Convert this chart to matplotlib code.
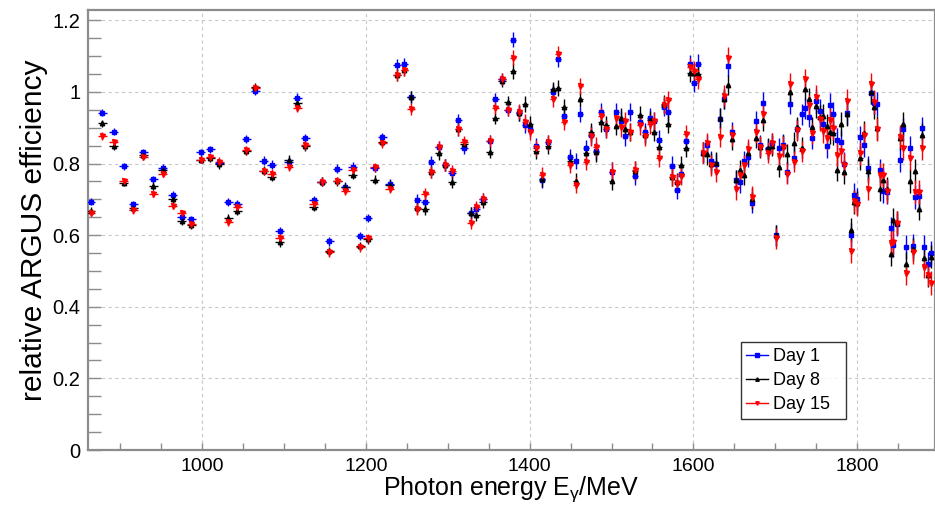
import numpy as np
import matplotlib.pyplot as plt
from matplotlib.ticker import MultipleLocator
from matplotlib.lines import Line2D

plt.rcParams['font.family'] = ['Liberation Sans', 'DejaVu Sans']
plt.rcParams['mathtext.fontset'] = 'custom'
plt.rcParams['mathtext.rm'] = 'Liberation Sans'
plt.rcParams['mathtext.it'] = 'Liberation Sans:italic'

# photon energy bins (MeV)
energy = [864, 878, 892, 904, 916, 928, 940, 952, 964, 975, 987, 998, 1010,
          1021, 1032, 1043, 1054, 1065, 1075, 1085, 1095, 1106, 1116, 1126, 1136, 1146, 1155, 1165,
          1175, 1184, 1193, 1202, 1211, 1220, 1229, 1238, 1247, 1255, 1263, 1272, 1280, 1289, 1297,
          1305, 1313, 1320,
          1328, 1335, 1343, 1351, 1358, 1366, 1373, 1380, 1387, 1394, 1401, 1408, 1415, 1422, 1428,
          1435, 1442, 1449, 1456, 1462, 1469,
          1475, 1481, 1487, 1493, 1500, 1506, 1512, 1517, 1523, 1529, 1535, 1541, 1547, 1552, 1558,
          1564, 1569, 1574, 1580, 1585, 1591, 1596, 1601, 1606,
          1612, 1617, 1622, 1627, 1632, 1637, 1642, 1647, 1652, 1656.5, 1661.5, 1666.5, 1671.5,
          1676.5, 1681.5, 1685.5, 1690.5, 1695.5, 1700.5, 1705, 1709, 1714, 1718, 1723, 1727, 1732,
          1736, 1741, 1745,
          1750, 1754, 1758, 1763, 1767, 1771, 1775, 1780, 1784, 1788, 1792, 1796, 1800, 1804, 1808,
          1813, 1817, 1821, 1824, 1828, 1832, 1836, 1841, 1844, 1848, 1852, 1856, 1860, 1864, 1868,
          1871, 1875, 1879, 1882, 1886, 1890]

day1 = [0.693, 0.942, 0.889, 0.792, 0.686, 0.831, 0.756, 0.788, 0.712, 0.650, 0.644, 0.831, 0.840,
        0.802, 0.693, 0.686, 0.869, 1.002, 0.808, 0.797, 0.612, 0.805, 0.984, 0.871, 0.698, 0.749,
        0.583, 0.786,
        0.735, 0.791, 0.598, 0.648, 0.788, 0.873, 0.744, 1.076, 1.079, 0.986, 0.698, 0.693, 0.803,
        0.847, 0.797, 0.774, 0.921, 0.844,
        0.662, 0.672, 0.700, 0.863, 0.980, 1.035, 0.949, 1.146, 0.942, 0.907, 0.896, 0.849, 0.754,
        0.859, 1.000, 1.091, 0.933, 0.819, 0.807, 0.937, 0.844,
        0.879, 0.835, 0.943, 0.896, 0.777, 0.944, 0.920, 0.876, 0.944, 0.766, 0.916, 0.887, 0.928,
        0.919, 0.867, 0.958, 0.944, 0.794, 0.726, 0.770, 0.862, 1.077, 1.026, 1.079,
        0.830, 0.851, 0.807, 0.800, 0.925, 0.980, 1.072, 0.887, 0.754, 0.747, 0.807, 0.819, 0.691,
        0.918, 0.851, 0.970, 0.840, 0.856, 0.600, 0.842, 0.853, 0.775, 0.966, 0.816, 0.895, 0.937,
        0.954, 0.930, 0.870,
        0.975, 0.947, 0.910, 0.848, 0.963, 0.938, 0.867, 0.861, 0.800, 0.941, 0.600, 0.712, 0.700,
        0.873, 0.851, 0.788, 0.998, 0.970, 0.966, 0.781, 0.724, 0.720, 0.619, 0.572, 0.630, 0.809,
        0.895, 0.566, 0.844, 0.570, 0.707, 0.710, 0.898, 0.568, 0.519, 0.550]

day8 = [0.668, 0.912, 0.849, 0.746, 0.676, 0.824, 0.737, 0.783, 0.700, 0.639, 0.627, 0.811, 0.815,
        0.798, 0.647, 0.667, 0.835, 1.014, 0.780, 0.763, 0.580, 0.811, 0.968, 0.848, 0.679, 0.749,
        0.555, 0.750,
        0.734, 0.768, 0.570, 0.588, 0.755, 0.860, 0.741, 1.047, 1.062, 0.986, 0.675, 0.674, 0.777,
        0.828, 0.797, 0.749, 0.895, 0.855,
        0.662, 0.656, 0.693, 0.833, 0.928, 1.030, 0.972, 1.059, 0.940, 0.966, 0.910, 0.834, 0.756,
        0.848, 1.007, 1.011, 0.958, 0.808, 0.751, 0.981, 0.830,
        0.887, 0.831, 0.915, 0.907, 0.752, 0.905, 0.928, 0.895, 0.888, 0.780, 0.936, 0.880, 0.921,
        0.888, 0.847, 0.966, 0.910, 0.763, 0.748, 0.795, 0.844, 1.053, 1.053, 1.050,
        0.830, 0.826, 0.800, 0.802, 0.927, 0.980, 1.019, 0.868, 0.754, 0.781, 0.768, 0.830, 0.702,
        0.872, 0.845, 0.921, 0.842, 0.850, 0.600, 0.791, 0.850, 0.826, 1.000, 0.858, 0.902, 0.844,
        1.007, 0.981, 0.902,
        0.960, 0.930, 0.932, 0.904, 0.888, 0.886, 0.783, 0.910, 0.777, 0.938, 0.614, 0.693, 0.690,
        0.816, 0.886, 0.779, 1.000, 0.958, 0.900, 0.728, 0.754, 0.730, 0.547, 0.642, 0.635, 0.870,
        0.910, 0.519, 0.751, 0.560, 0.779, 0.674, 0.879, 0.535, 0.488, 0.540]

day15 = [0.663, 0.877, 0.859, 0.750, 0.670, 0.819, 0.716, 0.772, 0.682, 0.661, 0.630, 0.811, 0.817,
         0.805, 0.638, 0.679, 0.837, 1.011, 0.779, 0.772, 0.593, 0.791, 0.955, 0.851, 0.688, 0.749,
         0.552, 0.751,
         0.723, 0.781, 0.566, 0.591, 0.789, 0.856, 0.730, 1.047, 1.062, 0.952, 0.673, 0.716, 0.777,
         0.845, 0.797, 0.778, 0.895, 0.861,
         0.634, 0.679, 0.700, 0.863, 0.954, 1.037, 0.949, 1.096, 0.945, 0.916, 0.887, 0.843, 0.769,
         0.859, 0.981, 1.107, 0.916, 0.795, 0.740, 1.017, 0.803,
         0.876, 0.847, 0.933, 0.896, 0.777, 0.926, 0.901, 0.919, 0.888, 0.781, 0.907, 0.876, 0.909,
         0.919, 0.816, 0.963, 0.977, 0.763, 0.746, 0.766, 0.882, 1.070, 1.059, 1.035,
         0.830, 0.856, 0.795, 0.777, 0.874, 0.989, 1.096, 0.879, 0.728, 0.768, 0.795, 0.840, 0.707,
         0.887, 0.847, 0.937, 0.830, 0.856, 0.591, 0.821, 0.847, 0.772, 1.023, 0.805, 0.893, 0.834,
         1.035, 0.963, 0.884,
         0.986, 0.923, 0.891, 0.872, 0.921, 0.900, 0.825, 0.835, 0.797, 0.974, 0.555, 0.694, 0.686,
         0.828, 0.881, 0.730, 1.021, 0.972, 0.895, 0.769, 0.768, 0.723, 0.579, 0.581, 0.634, 0.875,
         0.842, 0.493, 0.816, 0.553, 0.721, 0.721, 0.842, 0.512, 0.490, 0.467]

# uncertainties (same for all days)
yerr = [0.010] * 13 + [0.012] * 22 + [0.017] * 18 + [0.022] * 14 + [0.026] * 24 + [0.029] * 29 + [0.033] * 36
xerr = [5.5] * 35 + [4.5] * 18 + [3.5] * 38 + [2.5] * 65

frame_col = '#8c8c8c'

fig = plt.figure(figsize=(9.35, 5.05), dpi=100)
ax = fig.add_axes([87.5 / 935, 55 / 505, 847.5 / 935, 440 / 505])

series = [(day1, 'blue', 's', 2.6, 'Day 1'),
          (day8, 'black', '^', 3.2, 'Day 8'),
          (day15, 'red', 'v', 3.6, 'Day 15')]
handles = []
for vals, col, mk, ms, lab in series:
    ax.errorbar(energy, vals, yerr=yerr, xerr=xerr, fmt=mk, color=col, ms=ms,
                elinewidth=1.0, capsize=0, zorder=3)
    handles.append(Line2D([], [], color=col, lw=1.0, marker=mk, ms=2.5, label=lab))

ax.set_xlim(860, 1895)
ax.set_ylim(0, 1.2287)
ax.xaxis.set_major_locator(MultipleLocator(200))
ax.xaxis.set_minor_locator(MultipleLocator(50))
ax.yaxis.set_minor_locator(MultipleLocator(0.05))
ax.set_yticks([0, 0.2, 0.4, 0.6, 0.8, 1.0, 1.2])
ax.set_yticklabels(['0', '0.2', '0.4', '0.6', '0.8', '1', '1.2'])

ax.grid(True, which='major', color='#c8c8c8', linestyle=(0, (3, 3)), linewidth=0.8, zorder=0)
ax.tick_params(axis='x', which='both', direction='in', length=5, width=1, color=frame_col,
               labelsize=14, pad=6)
ax.tick_params(axis='y', which='both', direction='in', length=9.5, width=1, color=frame_col,
               labelsize=14.5, pad=5)
ax.tick_params(top=False, right=False)
for side in ['left', 'bottom', 'top', 'right']:
    ax.spines[side].set_color(frame_col)
    ax.spines[side].set_linewidth(1.6)

ax.set_xlabel('Photon energy E$_\\mathrm{\\gamma}$/MeV', fontsize=18, labelpad=-1)
ax.set_ylabel('relative ARGUS efficiency', fontsize=21.5, labelpad=3)

leg = ax.legend(handles=handles, loc='lower left',
                bbox_to_anchor=(0.7707, 0.0711, 0.1239, 0.2032), mode='expand',
                borderaxespad=0, fontsize=13, frameon=True, fancybox=False, edgecolor='black',
                handlelength=1.2, handletextpad=0.3, borderpad=0.3, labelspacing=0.4)
leg.get_frame().set_linewidth(1.0)

fig.savefig('out.png', dpi=100)
